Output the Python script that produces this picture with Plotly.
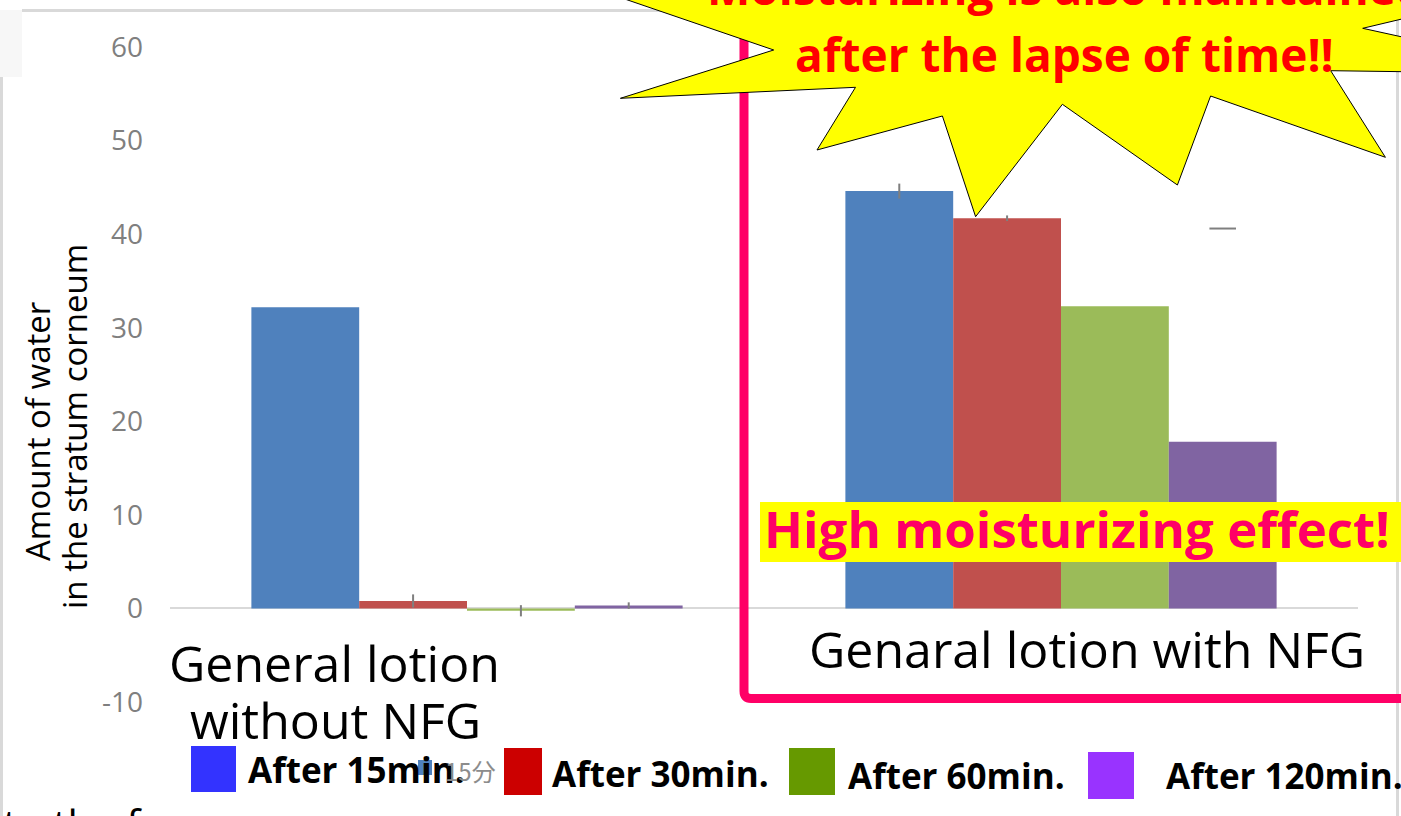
import plotly.graph_objects as go

# ---------------- data ----------------
categories = ["General lotion without NFG", "Genaral lotion with NFG"]
series_names = ["After 15min.", "After 30min.", "After 60min.", "After 120min."]
values_15 = [32.2, 44.6]
values_30 = [0.8, 41.7]
values_60 = [-0.25, 32.3]
values_120 = [0.3, 17.8]
err_15 = [0.0, 0.8]
err_30 = [0.7, 0.3]
err_60 = [0.6, 0.0]
err_120 = [0.35, 0.0]
stray_120_value = [40.6]          # lone error cap above the 120-min bar (NFG group)
bar_colors = ["#4F81BD", "#C0504D", "#9BBB59", "#8064A2"]
legend_colors = ["#3333FF", "#CC0000", "#669900", "#9933FF"]
y_ticks = [-10, 0, 10, 20, 30, 40, 50, 60]
y_tick_text = ["-10", "0", "10", "20", "30", "40", "50", "60"]

# ---------------- geometry helpers ----------------
W, H = 1401, 816
ML, MR, MT, MB = 170, 43, 47, 114
PW, PH = W - ML - MR, H - MT - MB
BARGAP = 0.274


def fx(x):
    return (x - ML) / PW


def fy(y):
    return (H - MB - y) / PH


def path_from(points, close=True):
    s = "M " + " L ".join(f"{fx(x):.5f},{fy(y):.5f}" for x, y in points)
    return s + (" Z" if close else "")


xs = list(range(len(categories)))
series_values = [values_15, values_30, values_60, values_120]
series_errs = [err_15, err_30, err_60, err_120]

fig = go.Figure()
for name, vals, errs, col in zip(series_names, series_values, series_errs, bar_colors):
    fig.add_trace(go.Bar(
        x=xs, y=vals, name=name, marker=dict(color=col, line=dict(width=0)),
        error_y=dict(type="data", array=errs, color="#7F7F7F", thickness=2, width=0),
        hoverinfo="skip",
    ))

bar_w = (1 - BARGAP) / len(series_names)
fig.add_trace(go.Scatter(
    x=[xs[1] + 1.5 * bar_w], y=stray_120_value, mode="markers",
    marker=dict(symbol="line-ew", size=19, line=dict(width=2, color="#7F7F7F")),
    hoverinfo="skip", showlegend=False,
))

shapes = []
# page border fragments
shapes.append(dict(type="rect", xref="paper", yref="paper", x0=fx(0), x1=fx(22), y0=fy(10), y1=fy(77),
                   fillcolor="#F7F7F7", line=dict(width=0), layer="above"))
shapes.append(dict(type="line", xref="paper", yref="paper", x0=fx(22), x1=fx(700), y0=fy(10.5), y1=fy(10.5),
                   line=dict(color="#D9D9D9", width=3), layer="above"))
shapes.append(dict(type="line", xref="paper", yref="paper", x0=fx(1.5), x1=fx(1.5), y0=fy(77), y1=fy(830),
                   line=dict(color="#D9D9D9", width=3), layer="above"))
shapes.append(dict(type="line", xref="paper", yref="paper", x0=fx(1397.5), x1=fx(1397.5), y0=fy(15), y1=fy(830),
                   line=dict(color="#D9D9D9", width=3), layer="above"))
# pink frame (left + bottom edges)
pink = (f"M {fx(744):.5f},{fy(38):.5f} L {fx(744):.5f},{fy(691):.5f} "
        f"Q {fx(744):.5f},{fy(698.5):.5f} {fx(751):.5f},{fy(698.5):.5f} L {fx(1430):.5f},{fy(698.5):.5f}")
shapes.append(dict(type="path", xref="paper", yref="paper", path=pink,
                   line=dict(color="#FF0066", width=9), layer="above"))
# starburst
star = [(540, -30), (773.7, 50), (620.4, 98.3), (855.5, 87.3), (817, 150), (942.4, 116),
        (975.6, 216.7), (1062.4, 104.3), (1177.4, 185), (1210.6, 96), (1385.4, 157.3),
        (1330.7, 70.7), (1571, 74), (1362.7, 28.3), (1520, -9), (1400, -120), (700, -120)]
shapes.append(dict(type="path", xref="paper", yref="paper", path=path_from(star),
                   fillcolor="#FFFF00", line=dict(color="#000000", width=1), layer="above"))
# yellow highlight box
shapes.append(dict(type="rect", xref="paper", yref="paper", x0=fx(760), x1=fx(1410), y0=fy(562), y1=fy(502),
                   fillcolor="#FFFF00", line=dict(width=0), layer="above"))
# legend squares
legend_boxes = [(191, 236, 746, 792), (504, 542, 748, 795), (789, 835, 748, 795), (1088, 1134, 752, 799)]
for (x0, x1, y0, y1), col in zip(legend_boxes, legend_colors):
    shapes.append(dict(type="rect", xref="paper", yref="paper", x0=fx(x0), x1=fx(x1), y0=fy(y1), y1=fy(y0),
                       fillcolor=col, line=dict(width=0), layer="above"))
shapes.append(dict(type="rect", xref="paper", yref="paper", x0=fx(418), x1=fx(432), y0=fy(775), y1=fy(760),
                   fillcolor=bar_colors[0], line=dict(width=0), layer="above"))

ann = []


def add_text(text, x, y, size, color="#000000", xanchor="center", yanchor="middle", family="Open Sans",
             angle=0):
    ann.append(dict(text=text, x=fx(x), y=fy(y), xref="paper", yref="paper", showarrow=False,
                    xanchor=xanchor, yanchor=yanchor, textangle=angle,
                    font=dict(family=family, size=size, color=color)))


# starburst text
add_text("<b>Moisturizing is also maintained</b>", 1066, -13, 46, "#FF0000")
add_text("<b>after the lapse of time!!</b>", 1064, 54, 46, "#FF0000")
# highlight text
add_text("<b>High moisturizing effect!</b>", 1077, 528, 51, "#FF0066")
# category labels
add_text("General lotion", 334, 663, 50)
add_text("without NFG", 335, 720, 50)
add_text("Genaral lotion with NFG", 1087, 649, 50)
# y-axis title
add_text("Amount of water", 37, 432, 33, angle=-90)
add_text("in the stratum corneum", 74, 426, 33, angle=-90)
# legend texts
legend_text_pos = [(246, 769), (550, 773), (846, 775), (1164, 775)]
for name, (x, y) in zip(series_names, legend_text_pos):
    add_text(f"<b>{name}</b>", x, y, 35, xanchor="left")
add_text("15分", 443, 770, 24, "#8C8C8C", xanchor="left", family="Noto Sans CJK JP")
# cut-off page text at bottom
add_text("to the force", 1, 793, 41, xanchor="left", yanchor="top")

fig.update_layout(
    width=W, height=H,
    margin=dict(l=ML, r=MR, t=MT, b=MB, pad=0, autoexpand=False),
    paper_bgcolor="white", plot_bgcolor="white",
    barmode="group", bargap=BARGAP, bargroupgap=0,
    showlegend=False,
    xaxis=dict(range=[-0.5, 1.5], showticklabels=False, showgrid=False, zeroline=False, showline=False),
    yaxis=dict(range=[-10, 60], tickvals=y_ticks, ticktext=y_tick_text, showgrid=False, zeroline=True,
               zerolinecolor="#D9D9D9", zerolinewidth=2, showline=False, ticks="", ticklabelstandoff=26,
               tickfont=dict(family="Open Sans", size=28, color="#7F7F7F")),
    shapes=shapes, annotations=ann,
    font=dict(family="Open Sans"),
)

fig.write_html("out.html", config={"displayModeBar": False},
               post_script="document.body.style.margin='0';document.body.style.overflow='hidden';")
